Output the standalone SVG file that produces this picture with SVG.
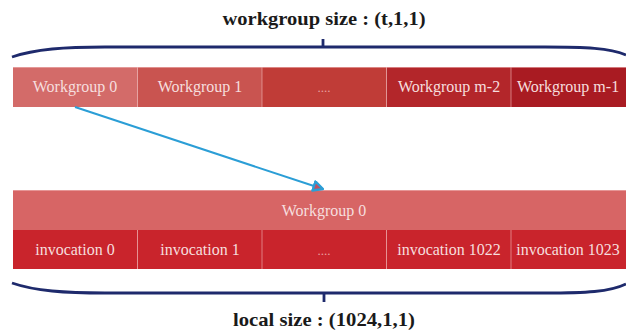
<svg xmlns="http://www.w3.org/2000/svg" width="626" height="335" viewBox="0 0 626 335">
<defs>
<style>
.title{font-family:"Liberation Serif","Times New Roman",serif;font-weight:bold;font-size:19px;fill:#1a1a1a;text-anchor:middle}
.lbl{font-family:"Liberation Serif","Times New Roman",serif;font-size:16px;fill:#f6dede;text-anchor:middle}
.dots{font-family:"Liberation Serif","Times New Roman",serif;font-size:13px;fill:#e9a0a0;text-anchor:middle}
.sep{stroke:#f0b8b8;stroke-width:1;opacity:0.6}
.brace{fill:none;stroke:#1e2a6c;stroke-width:2.8}
.conn{stroke:#2b9ed6;stroke-width:2;fill:none}
</style>
<marker id="ah" viewBox="0 0 10 10" refX="9" refY="5" markerWidth="6" markerHeight="6" orient="auto" markerUnits="strokeWidth">
<path d="M1,1 L9,5 L1,9 Z" fill="#c05060" stroke="#2b9ed6" stroke-width="2" stroke-linejoin="round"/>
</marker>
</defs>
<rect width="626" height="335" fill="#ffffff"/>

<text class="title" x="324" y="25" textLength="203" lengthAdjust="spacingAndGlyphs">workgroup size : (t,1,1)</text>
<g id="brace-top">
<path class="brace" d="M12,57 C35,49 65,47 105,47 L545,47 C585,47 610,48 626,55"/>
<path class="brace" d="M323,47 V39"/>
</g>

<g id="wg0"><rect x="13" y="67" width="124.5" height="40" fill="#d36b69"/><text class="lbl" x="75" y="92">Workgroup 0</text></g>
<g id="wg1"><rect x="137.5" y="67" width="124.5" height="40" fill="#c95450"/><text class="lbl" x="200" y="92">Workgroup 1</text></g>
<g id="wgdots"><rect x="262" y="67" width="124.5" height="40" fill="#c03c37"/><text class="dots" x="324" y="92">....</text></g>
<g id="wgm2"><rect x="386.5" y="67" width="124.5" height="40" fill="#b3262a"/><text class="lbl" x="449" y="92">Workgroup m-2</text></g>
<g id="wgm1"><rect x="511" y="67" width="115" height="40" fill="#a91b22"/><text class="lbl" x="568" y="92">Workgroup m-1</text></g>
<g id="top-seps">
<line class="sep" x1="13" y1="67.5" x2="626" y2="67.5"/>
<line class="sep" x1="137.5" y1="67" x2="137.5" y2="107"/>
<line class="sep" x1="262" y1="67" x2="262" y2="107"/>
<line class="sep" x1="386.5" y1="67" x2="386.5" y2="107"/>
<line class="sep" x1="511" y1="67" x2="511" y2="107"/>
</g>

<g id="wg0-detail"><rect x="13" y="190" width="613" height="40" fill="#d76565"/><text class="lbl" x="324" y="216">Workgroup 0</text></g>
<g id="inv0"><rect x="13" y="230" width="124.5" height="39" fill="#c9242c"/><text class="lbl" x="75" y="255">invocation 0</text></g>
<g id="inv1"><rect x="137.5" y="230" width="124.5" height="39" fill="#c9242c"/><text class="lbl" x="200" y="255">invocation 1</text></g>
<g id="invdots"><rect x="262" y="230" width="124.5" height="39" fill="#c9242c"/><text class="dots" x="324" y="255">....</text></g>
<g id="inv1022"><rect x="386.5" y="230" width="124.5" height="39" fill="#c9242c"/><text class="lbl" x="449" y="255">invocation 1022</text></g>
<g id="inv1023"><rect x="511" y="230" width="115" height="39" fill="#c9242c"/><text class="lbl" x="568" y="255">invocation 1023</text></g>
<g id="bot-seps">
<line class="sep" x1="13" y1="190.5" x2="626" y2="190.5"/>
<line class="sep" x1="137.5" y1="230" x2="137.5" y2="269"/>
<line class="sep" x1="262" y1="230" x2="262" y2="269"/>
<line class="sep" x1="386.5" y1="230" x2="386.5" y2="269"/>
<line class="sep" x1="511" y1="230" x2="511" y2="269"/>
</g>

<g id="brace-bottom">
<path class="brace" d="M12,283 C35,291 65,293 105,293 L545,293 C585,293 610,292 626,284"/>
<path class="brace" d="M324,293 V302"/>
</g>
<text class="title" x="324" y="326" textLength="182" lengthAdjust="spacingAndGlyphs">local size : (1024,1,1)</text>

<g id="connectors">
<path class="conn" d="M75,107 L323,189" marker-end="url(#ah)"/>
</g>
</svg>
